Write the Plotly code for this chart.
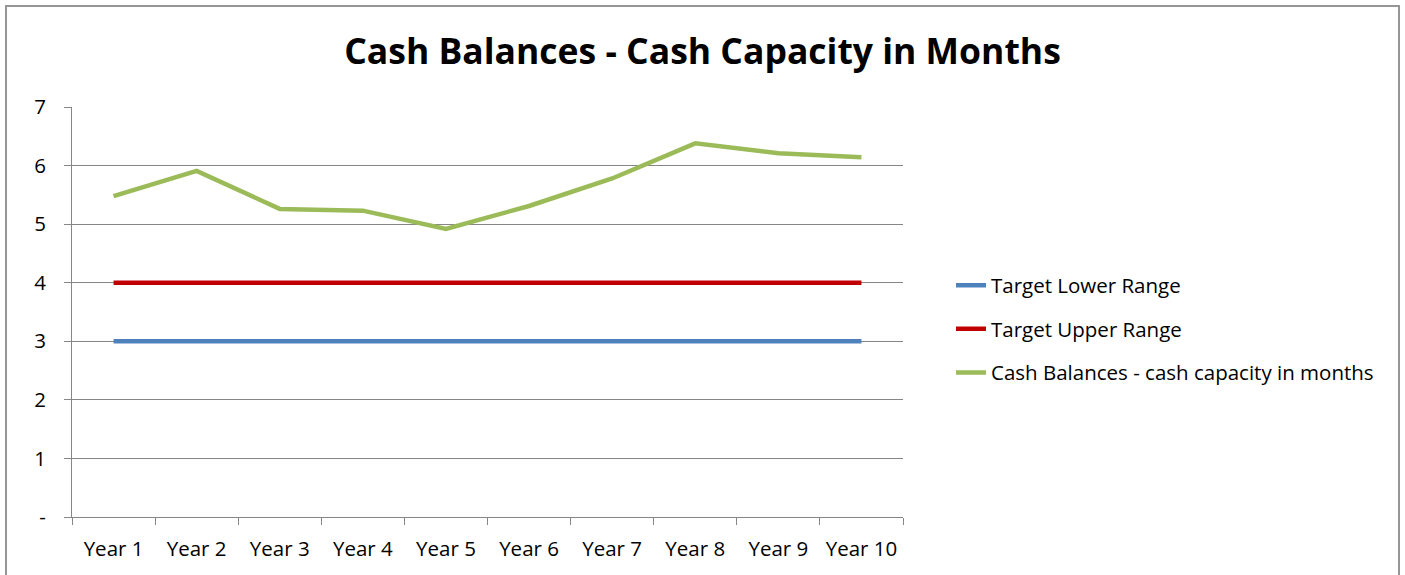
import plotly.graph_objects as go

categories = ["Year 1", "Year 2", "Year 3", "Year 4", "Year 5", "Year 6", "Year 7", "Year 8", "Year 9", "Year 10"]
target_lower = [3, 3, 3, 3, 3, 3, 3, 3, 3, 3]
target_upper = [4, 4, 4, 4, 4, 4, 4, 4, 4, 4]
cash_months = [5.48, 5.91, 5.26, 5.23, 4.92, 5.31, 5.78, 6.38, 6.21, 6.14]
y_tickvals = [0, 1, 2, 3, 4, 5, 6, 7]
y_ticktext = ["-", "1", "2", "3", "4", "5", "6", "7"]

FONT = "Open Sans"

fig = go.Figure()
fig.add_trace(go.Scatter(x=categories, y=target_lower, mode="lines", name="Target Lower Range",
                         legendgroup="a", line=dict(color="#4F81BD", width=4.5)))
fig.add_trace(go.Scatter(x=categories, y=target_upper, mode="lines", name="Target Upper Range",
                         legendgroup="b", line=dict(color="#C00000", width=4.5)))
fig.add_trace(go.Scatter(x=categories, y=cash_months, mode="lines", name="Cash Balances - cash capacity in months",
                         legendgroup="c", line=dict(color="#9BBB59", width=4.5)))

W, H = 1405, 575
L, R, T, B = 72, 903, 107, 517.3
pw, ph = R - L, B - T

def px_x(x):
    return (x - L) / pw

def px_y(y):
    return (B - y) / ph

fig.update_layout(
    width=W, height=H,
    margin=dict(l=L, r=W - R, t=T, b=H - B, autoexpand=False),
    paper_bgcolor="white", plot_bgcolor="white",
    font=dict(family=FONT, color="black", size=20),
    title=dict(text="<b>Cash Balances - Cash Capacity in Months</b>", x=0.5, xanchor="center",
               xref="container", y=1 - 52 / H, yanchor="middle", yref="container",
               font=dict(family=FONT, size=35.5, color="black")),
    showlegend=True,
    legend=dict(x=px_x(951), y=px_y(329), xanchor="left", yanchor="middle",
                font=dict(family=FONT, size=20.5, color="black"), tracegroupgap=14,
                itemwidth=30, bgcolor="rgba(0,0,0,0)"),
    xaxis=dict(type="category", showgrid=False, showline=True, linecolor="#868686", linewidth=1,
               ticks="outside", tickson="boundaries", ticklen=7, tickcolor="#868686",
               ticklabelstandoff=13, tickfont=dict(family=FONT, size=20.5, color="black"),
               range=[-0.5, 9.5], zeroline=False),
    yaxis=dict(range=[0, 7], tickvals=y_tickvals, ticktext=y_ticktext, showgrid=True,
               gridcolor="#868686", gridwidth=1, showline=True, linecolor="#868686", linewidth=1,
               ticks="outside", ticklen=7, tickcolor="#868686", ticklabelstandoff=14,
               tickfont=dict(family=FONT, size=20.5, color="black"), zeroline=False),
)

# outer chart border
fig.add_shape(type="rect", xref="paper", yref="paper",
              x0=px_x(6), x1=px_x(1399), y0=px_y(600), y1=px_y(6),
              line=dict(color="#969696", width=2), fillcolor="rgba(0,0,0,0)", layer="below")

fig.write_html("out.html", config={"displayModeBar": False},
               post_script="document.body.style.margin='0';")
